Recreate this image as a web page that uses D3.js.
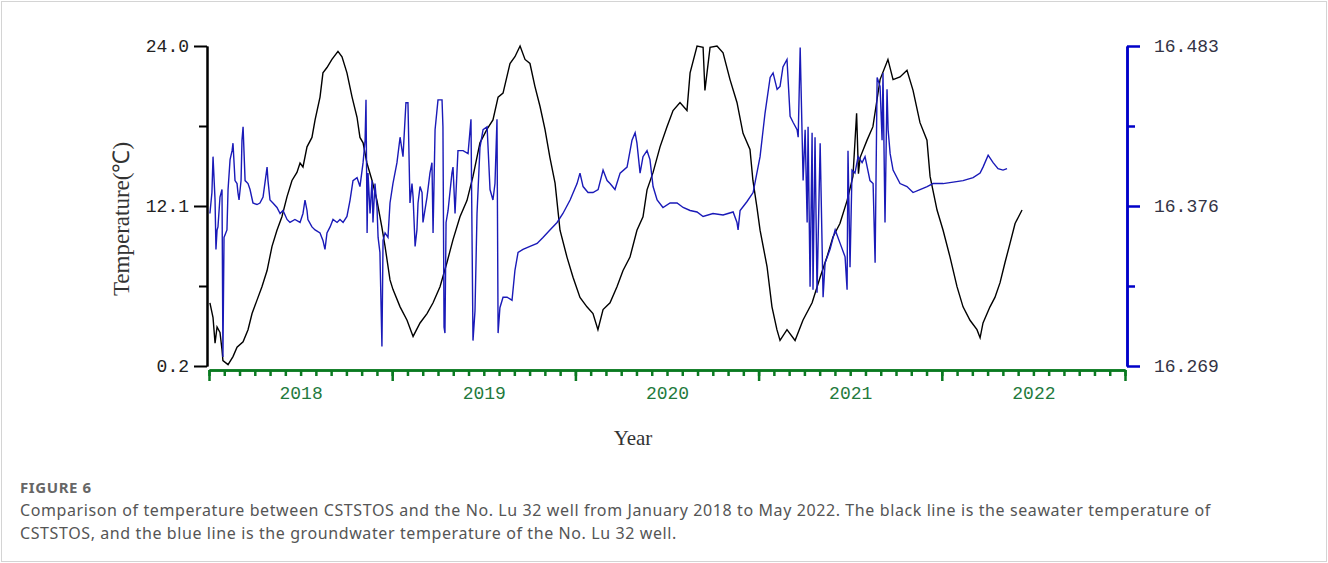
<!DOCTYPE html>
<html>
<head>
  <meta charset="utf-8">
  <title>seawater vs groundwater temperature</title>
  <script src="https://cdn.jsdelivr.net/npm/d3@7"></script>
  <style>
    body { margin: 0; background: #fff; }
    .yleft .domain, .yleft line { stroke: #000; stroke-width: 2; }
    .yleft text { fill: #222; font-family: "Liberation Mono", monospace; font-size: 18px; }
    .yright .domain, .yright line { stroke: #0000c8; stroke-width: 2.5; }
    .yright text { fill: #333344; font-family: "Liberation Mono", monospace; font-size: 18px; }
    .xaxis .domain, .xaxis line { stroke: #0a7a20; stroke-width: 2.5; }
    .xaxis text { fill: #237a3c; font-family: "Liberation Mono", monospace; font-size: 18px; }
  </style>
</head>
<body>
<script>

// seawater temperature of CSTSTOS (black line), decimal year / deg C
var seaTime = [2018.005, 2018.022, 2018.033, 2018.044, 2018.060, 2018.071, 2018.076, 2018.104, 2018.131, 2018.153,
  2018.186, 2018.213, 2018.235, 2018.262, 2018.289, 2018.317, 2018.344, 2018.371, 2018.398, 2018.426,
  2018.453, 2018.480, 2018.497, 2018.513, 2018.535, 2018.562, 2018.579, 2018.606, 2018.622, 2018.644,
  2018.671, 2018.704, 2018.726, 2018.753, 2018.781, 2018.808, 2018.824, 2018.841, 2018.862, 2018.890,
  2018.917, 2018.944, 2018.961, 2018.988, 2019.004, 2019.043, 2019.081, 2019.114, 2019.152, 2019.190,
  2019.223, 2019.261, 2019.299, 2019.332, 2019.370, 2019.408, 2019.441, 2019.479, 2019.517, 2019.550,
  2019.578, 2019.605, 2019.643, 2019.670, 2019.698, 2019.725, 2019.752, 2019.779, 2019.807, 2019.834,
  2019.861, 2019.889, 2019.916, 2019.954, 2019.987, 2020.025, 2020.063, 2020.096, 2020.123, 2020.151,
  2020.189, 2020.227, 2020.260, 2020.298, 2020.336, 2020.369, 2020.391, 2020.424, 2020.462, 2020.500,
  2020.533, 2020.571, 2020.609, 2020.626, 2020.664, 2020.697, 2020.707, 2020.735, 2020.773, 2020.806,
  2020.844, 2020.882, 2020.915, 2020.953, 2020.969, 2020.991, 2021.008, 2021.046, 2021.073, 2021.100,
  2021.117, 2021.155, 2021.199, 2021.242, 2021.292, 2021.336, 2021.373, 2021.406, 2021.444, 2021.483,
  2021.515, 2021.535, 2021.545, 2021.554, 2021.592, 2021.624, 2021.663, 2021.706, 2021.734, 2021.772,
  2021.810, 2021.843, 2021.881, 2021.919, 2021.936, 2021.974, 2022.007, 2022.045, 2022.083, 2022.116,
  2022.154, 2022.192, 2022.209, 2022.225, 2022.263, 2022.290, 2022.318, 2022.345, 2022.372, 2022.400,
  2022.438];
var seaTemp = [4.9, 3.8, 1.9, 3.1, 2.7, 1.4, 0.6, 0.3, 0.9, 1.6,
  2.0, 2.9, 4.1, 5.1, 6.1, 7.3, 9.1, 10.3, 11.3, 12.8,
  14.0, 14.6, 15.3, 15.0, 16.5, 17.2, 18.5, 20.2, 22.0, 22.4,
  23.0, 23.6, 23.2, 22.0, 20.2, 18.7, 17.2, 16.8, 15.3, 14.0,
  12.5, 10.5, 9.1, 6.6, 5.9, 4.6, 3.6, 2.4, 3.4, 4.1,
  4.9, 6.1, 7.9, 9.6, 11.3, 12.5, 14.3, 16.8, 17.8, 18.5,
  20.2, 20.5, 22.7, 23.2, 24.0, 23.0, 22.7, 21.0, 19.5, 17.8,
  15.7, 13.8, 10.3, 8.3, 6.8, 5.3, 4.6, 4.1, 2.9, 4.4,
  4.9, 6.1, 7.3, 8.3, 10.3, 11.3, 13.3, 14.6, 16.5, 18.0,
  19.2, 19.8, 19.2, 22.0, 24.0, 23.9, 20.7, 23.9, 24.0, 23.5,
  21.5, 19.8, 17.5, 16.3, 14.0, 12.0, 10.3, 7.6, 4.6, 2.9,
  2.1, 2.9, 2.1, 3.6, 4.9, 6.8, 8.3, 9.8, 10.8, 12.5,
  14.3, 19.0, 14.5, 15.7, 17.0, 18.0, 21.5, 23.0, 21.5, 21.7,
  22.2, 20.7, 18.3, 17.0, 14.3, 11.8, 10.3, 8.3, 6.1, 4.6,
  3.6, 2.9, 2.3, 3.4, 4.6, 5.3, 6.4, 7.9, 9.3, 10.8,
  11.8];

// groundwater temperature of the No. Lu 32 well (blue line)
var wellTime = [2018.005, 2018.016, 2018.022, 2018.033, 2018.038, 2018.044, 2018.049, 2018.060, 2018.071, 2018.076,
  2018.082, 2018.098, 2018.104, 2018.115, 2018.126, 2018.131, 2018.142, 2018.153, 2018.158, 2018.164,
  2018.175, 2018.180, 2018.186, 2018.197, 2018.213, 2018.224, 2018.240, 2018.262, 2018.278, 2018.295,
  2018.317, 2018.322, 2018.333, 2018.349, 2018.371, 2018.388, 2018.404, 2018.426, 2018.442, 2018.469,
  2018.497, 2018.513, 2018.524, 2018.535, 2018.540, 2018.562, 2018.579, 2018.606, 2018.622, 2018.633,
  2018.644, 2018.661, 2018.677, 2018.699, 2018.715, 2018.732, 2018.753, 2018.770, 2018.786, 2018.808,
  2018.824, 2018.841, 2018.852, 2018.857, 2018.863, 2018.868, 2018.879, 2018.890, 2018.895, 2018.906,
  2018.917, 2018.923, 2018.933, 2018.944, 2018.950, 2018.961, 2018.977, 2018.988, 2019.004, 2019.026,
  2019.043, 2019.059, 2019.075, 2019.086, 2019.097, 2019.108, 2019.114, 2019.125, 2019.135, 2019.141,
  2019.152, 2019.163, 2019.168, 2019.190, 2019.206, 2019.217, 2019.223, 2019.234, 2019.250, 2019.272,
  2019.277, 2019.283, 2019.288, 2019.294, 2019.305, 2019.326, 2019.332, 2019.343, 2019.359, 2019.387,
  2019.414, 2019.430, 2019.441, 2019.452, 2019.463, 2019.479, 2019.496, 2019.518, 2019.534, 2019.550,
  2019.561, 2019.572, 2019.578, 2019.588, 2019.605, 2019.627, 2019.654, 2019.670, 2019.687, 2019.714,
  2019.752, 2019.791, 2019.823, 2019.861, 2019.900, 2019.932, 2019.971, 2020.009, 2020.025, 2020.042,
  2020.069, 2020.096, 2020.124, 2020.151, 2020.173, 2020.189, 2020.216, 2020.244, 2020.282, 2020.309,
  2020.326, 2020.336, 2020.353, 2020.369, 2020.391, 2020.407, 2020.424, 2020.446, 2020.478, 2020.517,
  2020.555, 2020.588, 2020.626, 2020.664, 2020.697, 2020.751, 2020.806, 2020.861, 2020.882, 2020.888,
  2020.899, 2020.937, 2020.970, 2021.008, 2021.035, 2021.063, 2021.079, 2021.101, 2021.117, 2021.133,
  2021.155, 2021.172, 2021.188, 2021.210, 2021.216, 2021.227, 2021.243, 2021.254, 2021.265, 2021.270,
  2021.281, 2021.292, 2021.297, 2021.308, 2021.319, 2021.336, 2021.352, 2021.363, 2021.390, 2021.418,
  2021.445, 2021.472, 2021.483, 2021.488, 2021.499, 2021.510, 2021.526, 2021.543, 2021.565, 2021.581,
  2021.608, 2021.625, 2021.636, 2021.647, 2021.663, 2021.674, 2021.679, 2021.690, 2021.701, 2021.707,
  2021.718, 2021.734, 2021.772, 2021.810, 2021.843, 2021.881, 2021.920, 2021.952, 2022.007, 2022.062,
  2022.116, 2022.171, 2022.209, 2022.225, 2022.253, 2022.280, 2022.307, 2022.334, 2022.356];
var wellTemp = [16.371, 16.385, 16.409, 16.380, 16.347, 16.360, 16.362, 16.382, 16.387, 16.275,
  16.355, 16.360, 16.387, 16.407, 16.413, 16.418, 16.393, 16.391, 16.385, 16.380,
  16.393, 16.420, 16.429, 16.393, 16.391, 16.387, 16.378, 16.377, 16.378, 16.382,
  16.402, 16.393, 16.380, 16.378, 16.375, 16.371, 16.373, 16.367, 16.365, 16.367,
  16.365, 16.371, 16.380, 16.373, 16.367, 16.362, 16.360, 16.358, 16.353, 16.347,
  16.358, 16.362, 16.367, 16.365, 16.367, 16.365, 16.369, 16.380, 16.393, 16.395,
  16.389, 16.405, 16.420, 16.447, 16.358, 16.398, 16.371, 16.393, 16.365, 16.391,
  16.375, 16.355, 16.345, 16.282, 16.353, 16.358, 16.355, 16.378, 16.391, 16.405,
  16.422, 16.409, 16.445, 16.445, 16.378, 16.391, 16.382, 16.349, 16.360, 16.378,
  16.389, 16.385, 16.365, 16.382, 16.398, 16.405, 16.358, 16.427, 16.447, 16.447,
  16.429, 16.295, 16.291, 16.365, 16.373, 16.398, 16.402, 16.371, 16.413, 16.413,
  16.411, 16.434, 16.286, 16.306, 16.371, 16.415, 16.427, 16.429, 16.387, 16.380,
  16.391, 16.434, 16.291, 16.308, 16.315, 16.315, 16.313, 16.333, 16.345, 16.347,
  16.349, 16.351, 16.355, 16.360, 16.365, 16.371, 16.380, 16.391, 16.398, 16.389,
  16.385, 16.385, 16.387, 16.400, 16.393, 16.391, 16.387, 16.398, 16.402, 16.420,
  16.425, 16.418, 16.398, 16.409, 16.413, 16.407, 16.389, 16.380, 16.375, 16.378,
  16.378, 16.375, 16.373, 16.372, 16.369, 16.371, 16.370, 16.372, 16.365, 16.360,
  16.373, 16.379, 16.385, 16.409, 16.438, 16.462, 16.465, 16.454, 16.456, 16.469,
  16.474, 16.436, 16.432, 16.427, 16.422, 16.482, 16.393, 16.427, 16.365, 16.429,
  16.322, 16.425, 16.320, 16.422, 16.318, 16.418, 16.315, 16.338, 16.347, 16.360,
  16.351, 16.342, 16.320, 16.413, 16.335, 16.400, 16.398, 16.409, 16.405, 16.409,
  16.393, 16.391, 16.338, 16.462, 16.456, 16.420, 16.465, 16.365, 16.454, 16.427,
  16.411, 16.400, 16.391, 16.389, 16.385, 16.387, 16.389, 16.391, 16.391, 16.392,
  16.393, 16.395, 16.398, 16.402, 16.410, 16.405, 16.401, 16.400, 16.401];

// axis ticks
var years = [2018, 2019, 2020, 2021, 2022];
var leftTicks = [0.2, 12.1, 24.0];
var rightTicks = [16.269, 16.376, 16.483];

var w = 1328;
var h = 563;

var svg = d3.select("body")
  .append("svg")
  .attr("width", w)
  .attr("height", h);

// light frame round the figure
svg.append("rect")
  .attr("x", 1.5).attr("y", 1.5)
  .attr("width", w - 3).attr("height", h - 3)
  .attr("fill", "none")
  .attr("stroke", "#d4d4d4");

// scales
var xScale = d3.scaleLinear()
  .domain([years[0], years[years.length - 1] + 1])
  .range([209, 1125]);

var yLeft = d3.scaleLinear()
  .domain([leftTicks[0], leftTicks[2]])
  .range([366, 46]);

var yRight = d3.scaleLinear()
  .domain([rightTicks[0], rightTicks[2]])
  .range([366, 46]);

// the two series
var seaLine = d3.line()
  .x(function(d) { return xScale(d[0]); })
  .y(function(d) { return yLeft(d[1]); });

var wellLine = d3.line()
  .x(function(d) { return xScale(d[0]); })
  .y(function(d) { return yRight(d[1]); });

svg.append("path")
  .datum(d3.zip(seaTime, seaTemp))
  .attr("d", seaLine)
  .attr("fill", "none")
  .attr("stroke", "#000")
  .attr("stroke-width", 1.4);

svg.append("path")
  .datum(d3.zip(wellTime, wellTemp))
  .attr("d", wellLine)
  .attr("fill", "none")
  .attr("stroke", "#1a1ab8")
  .attr("stroke-width", 1.4);

// left axis, with the in-between ticks
var midLeft = [(leftTicks[0] + leftTicks[1]) / 2, (leftTicks[1] + leftTicks[2]) / 2];
svg.append("g")
  .attr("class", "yleft")
  .attr("transform", "translate(207,0)")
  .call(d3.axisLeft(yLeft).tickValues(leftTicks).tickFormat(d3.format(".1f"))
    .tickSize(13).tickSizeOuter(0).tickPadding(5));
svg.append("g")
  .attr("class", "yleft")
  .attr("transform", "translate(207,0)")
  .call(d3.axisLeft(yLeft).tickValues(midLeft).tickFormat("").tickSize(8).tickSizeOuter(0));

// right axis
var midRight = [(rightTicks[0] + rightTicks[1]) / 2, (rightTicks[1] + rightTicks[2]) / 2];
svg.append("g")
  .attr("class", "yright")
  .attr("transform", "translate(1127,0)")
  .call(d3.axisRight(yRight).tickValues(rightTicks).tickFormat(d3.format(".3f"))
    .tickSize(13).tickSizeOuter(0).tickPadding(14));
svg.append("g")
  .attr("class", "yright")
  .attr("transform", "translate(1127,0)")
  .call(d3.axisRight(yRight).tickValues(midRight).tickFormat("").tickSize(8).tickSizeOuter(0));

// bottom axis: month ticks, year ticks, then the year names in the middle
var months = d3.range(0, years.length * 12 + 1).map(function(i) { return years[0] + i / 12; });
var yearEdges = years.concat([years[years.length - 1] + 1]);

svg.append("g")
  .attr("class", "xaxis")
  .attr("transform", "translate(0,370)")
  .call(d3.axisBottom(xScale).tickValues(months).tickFormat("").tickSize(6).tickSizeOuter(0));
svg.append("g")
  .attr("class", "xaxis")
  .attr("transform", "translate(0,370)")
  .call(d3.axisBottom(xScale).tickValues(yearEdges).tickFormat("").tickSize(11).tickSizeOuter(0));
svg.append("g")
  .attr("class", "xaxis")
  .attr("transform", "translate(0,370)")
  .call(d3.axisBottom(xScale).tickValues(years.map(function(y) { return y + 0.5; }))
    .tickFormat(function(d) { return Math.floor(d); }).tickSize(0).tickSizeOuter(0).tickPadding(16))
  .select(".domain").remove();

// axis titles
svg.append("text")
  .attr("transform", "translate(129,219) rotate(-90)")
  .attr("text-anchor", "middle")
  .attr("font-family", "Liberation Serif, serif")
  .attr("font-size", "23px")
  .attr("fill", "#333")
  .text("Temperature(℃)");

svg.append("text")
  .attr("x", 633)
  .attr("y", 445)
  .attr("text-anchor", "middle")
  .attr("font-family", "Liberation Serif, serif")
  .attr("font-size", "21px")
  .attr("fill", "#333")
  .text("Year");

// caption
svg.append("text")
  .attr("x", 20).attr("y", 493)
  .attr("font-family", "Noto Sans, sans-serif")
  .attr("font-size", "15px")
  .attr("font-weight", "bold")
  .attr("letter-spacing", "0.6px")
  .attr("fill", "#666")
  .text("FIGURE 6");

var caption = [
  "Comparison of temperature between CSTSTOS and the No. Lu 32 well from January 2018 to May 2022. The black line is the seawater temperature of",
  "CSTSTOS, and the blue line is the groundwater temperature of the No. Lu 32 well."
];
svg.selectAll(".cap")
  .data(caption)
  .enter()
  .append("text")
  .attr("class", "cap")
  .attr("x", 20)
  .attr("y", function(d, i) { return 516 + i * 23; })
  .attr("font-family", "Noto Sans, sans-serif")
  .attr("font-size", "16px")
  .attr("letter-spacing", "0.6px")
  .attr("fill", "#555")
  .text(function(d) { return d; });

</script>
</body>
</html>
